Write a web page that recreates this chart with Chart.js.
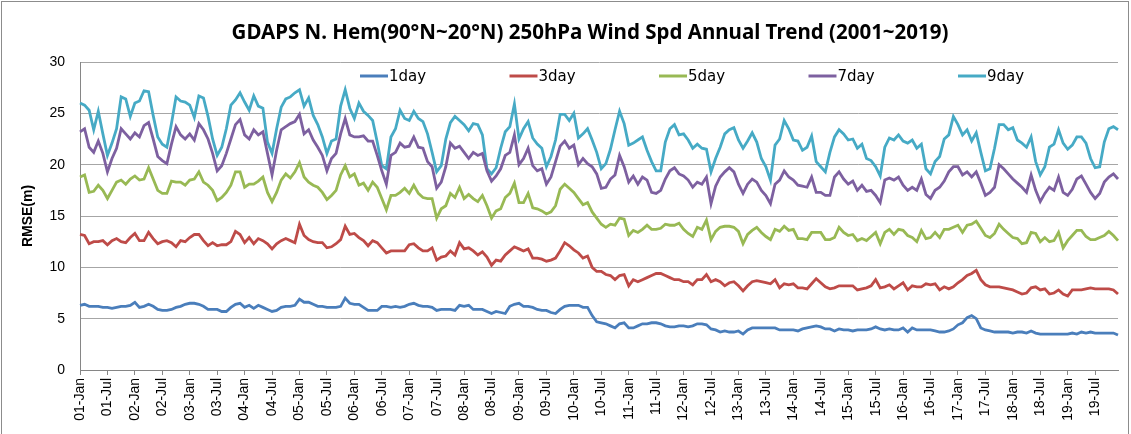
<!DOCTYPE html>
<html>
<head>
<meta charset="utf-8">
<script src="https://cdn.jsdelivr.net/npm/chart.js@4.4.1/dist/chart.umd.min.js"></script>
<style>
  html, body { margin: 0; padding: 0; background: #fff; }
  #wrap { position: relative; width: 1131px; height: 434px; }
  #frame { position: absolute; left: 1px; top: 1px; width: 1126px; height: 440px; border: 1px solid #8c8c8c; pointer-events: none; }
</style>
</head>
<body>
<div id="wrap">
  <canvas id="chart"></canvas>
  <div id="frame"></div>
</div>
<script>
// 2001~2019, monthly
const years = ["01","02","03","04","05","06","07","08","09","10","11","12","13","14","15","16","17","18","19"];
const months = ["Jan","Feb","Mar","Apr","May","Jun","Jul","Aug","Sep","Oct","Nov","Dec"];
const seriesNames = ["1day", "3day", "5day", "7day", "9day"];
const chartTitle = 'GDAPS N. Hem(90°N~20°N) 250hPa Wind Spd Annual Trend (2001~2019)';

const day1 = [
  6.3,6.4,6.2,6.2,6.2,6.1,6.1,6.0,6.1,6.2,6.2,6.3,
  6.6,6.1,6.2,6.4,6.2,5.9,5.8,5.8,5.9,6.1,6.2,6.4,
  6.5,6.5,6.4,6.2,5.9,5.9,5.9,5.7,5.7,6.1,6.4,6.5,
  6.1,6.3,6.0,6.3,6.1,5.9,5.7,5.8,6.1,6.2,6.2,6.3,
  6.9,6.6,6.6,6.4,6.2,6.2,6.1,6.1,6.1,6.2,7.0,6.5,
  6.4,6.4,6.1,5.8,5.8,5.8,6.2,6.2,6.1,6.2,6.1,6.2,
  6.4,6.5,6.3,6.2,6.2,6.1,5.8,5.9,5.9,5.9,5.8,6.3,
  6.2,6.3,5.9,5.9,5.9,5.7,5.5,5.7,5.6,5.5,6.2,6.4,
  6.5,6.2,6.2,6.1,5.9,5.8,5.8,5.6,5.5,5.9,6.2,6.3,
  6.3,6.3,6.1,6.1,5.3,4.7,4.6,4.5,4.3,4.1,4.5,4.6,
  4.1,4.1,4.3,4.5,4.5,4.6,4.6,4.5,4.3,4.2,4.2,4.3,
  4.3,4.2,4.3,4.5,4.5,4.4,4.0,3.9,3.7,3.8,3.7,3.7,
  3.8,3.5,3.9,4.1,4.1,4.1,4.1,4.1,4.1,3.9,3.9,3.9,
  3.9,3.8,4.0,4.1,4.2,4.3,4.2,4.0,4.0,3.8,4.0,3.9,
  3.9,3.8,3.9,3.9,3.9,4.0,4.2,4.0,3.9,4.0,3.9,3.9,
  4.1,3.7,4.1,3.9,3.9,3.9,3.9,3.8,3.7,3.7,3.8,4.0,
  4.4,4.6,5.1,5.3,5.0,4.1,3.9,3.8,3.7,3.7,3.7,3.7,
  3.6,3.7,3.7,3.6,3.8,3.6,3.5,3.5,3.5,3.5,3.5,3.5,
  3.5,3.6,3.5,3.7,3.6,3.7,3.6,3.6,3.6,3.6,3.6,3.4
];
const day3 = [
  13.2,13.1,12.3,12.5,12.5,12.6,12.2,12.6,12.8,12.5,12.4,12.9,
  13.3,12.6,12.6,13.4,12.8,12.3,12.5,12.6,12.4,12.0,12.6,12.5,
  12.9,13.2,13.2,12.6,12.1,12.4,12.1,12.2,12.2,12.5,13.5,13.2,
  12.4,12.9,12.3,12.8,12.6,12.3,11.8,12.3,12.6,12.8,12.6,12.4,
  14.2,13.1,12.7,12.5,12.4,12.4,11.9,12.0,12.3,12.7,14.0,13.2,
  13.3,12.9,12.6,12.1,12.6,12.4,11.9,11.4,11.6,11.6,11.6,11.6,
  12.2,12.3,11.9,11.6,11.6,11.9,10.7,11.0,11.1,11.6,11.2,12.4,
  11.8,11.9,11.6,11.2,11.5,11.0,10.2,10.7,10.6,11.2,11.6,12.0,
  11.8,11.6,11.8,10.9,10.9,10.8,10.6,10.7,10.9,11.6,12.4,12.1,
  11.7,11.4,10.9,11.1,10.0,9.6,9.6,9.3,9.2,8.8,9.2,9.3,
  8.2,8.8,8.6,8.8,9.0,9.2,9.4,9.4,9.2,9.0,8.8,8.8,
  8.6,8.6,8.3,8.8,8.8,9.3,8.6,8.8,8.6,8.2,8.5,8.6,
  8.2,7.7,8.2,8.6,8.7,8.6,8.5,8.4,8.8,8.0,8.4,8.3,
  8.4,8.0,8.0,7.9,8.4,8.9,8.5,8.1,7.9,8.0,8.2,8.2,
  8.2,8.2,7.8,7.9,8.0,8.2,8.8,8.0,8.1,8.3,7.9,8.2,
  8.5,7.8,8.2,8.1,8.1,8.4,8.3,8.4,7.8,8.1,7.9,8.1,
  8.5,8.8,9.2,9.4,9.7,8.8,8.3,8.1,8.1,8.1,8.0,7.9,
  7.8,7.6,7.4,7.5,8.0,8.1,7.8,7.9,7.4,7.5,7.8,7.4,
  7.2,7.8,7.8,7.8,7.9,8.0,7.9,7.9,7.9,7.9,7.8,7.4
];
const day5 = [
  18.8,19.0,17.3,17.4,18.0,17.5,16.7,17.5,18.3,18.5,18.1,18.6,
  18.9,18.5,18.6,19.7,18.6,17.5,17.2,17.2,18.4,18.3,18.3,18.0,
  18.5,18.6,19.3,18.3,18.0,17.5,16.5,16.8,17.3,18.0,19.3,19.3,
  17.8,18.1,18.1,18.4,18.8,17.3,16.4,17.3,18.5,19.1,18.7,19.3,
  20.2,18.8,18.3,18.0,17.8,17.3,16.6,17.0,17.5,19.0,19.9,18.8,
  19.1,18.0,18.2,17.5,18.3,17.8,16.7,15.6,17.0,17.0,17.3,17.7,
  17.2,18.0,17.2,16.8,16.7,16.7,14.8,15.7,16.0,17.2,16.8,17.8,
  16.7,17.1,16.7,16.4,17.0,16.0,14.8,15.5,15.7,16.8,17.2,18.2,
  16.3,16.3,17.2,15.8,15.7,15.5,15.2,15.4,16.0,17.6,18.1,17.7,
  17.3,16.7,16.1,16.3,15.4,14.8,14.2,13.9,14.2,14.1,14.8,14.7,
  13.1,13.6,13.4,13.7,14.1,13.7,13.7,13.8,14.2,14.1,14.1,14.3,
  13.7,13.3,13.0,13.9,13.7,14.6,12.7,13.5,13.9,14.0,14.0,13.9,
  13.5,12.3,13.2,13.6,13.9,13.4,13.0,12.7,13.7,13.5,14.0,13.6,
  13.7,12.8,12.8,12.7,13.4,13.4,13.4,12.7,12.7,12.9,13.9,13.4,
  13.1,13.2,12.6,12.8,12.6,13.0,13.4,12.3,13.4,13.7,13.2,13.7,
  13.6,13.1,12.9,12.5,13.6,12.8,12.9,13.4,12.9,13.7,13.7,13.9,
  14.1,13.4,14.1,14.2,14.5,13.8,13.1,12.9,13.3,14.2,13.7,13.3,
  12.9,12.8,12.3,12.4,13.4,13.3,12.5,12.9,12.5,12.6,13.4,11.9,
  12.6,13.1,13.6,13.6,13.0,12.7,12.7,12.9,13.1,13.5,13.1,12.6
];
const day7 = [
  23.2,23.5,21.7,21.2,22.3,21.1,19.3,20.6,21.6,23.5,23.0,22.5,
  23.1,22.7,23.8,24.1,22.5,20.8,20.4,20.1,22.0,23.7,22.9,22.5,
  23.0,22.4,24.0,23.4,22.5,21.1,19.4,19.9,21.1,22.5,23.9,24.4,
  22.9,22.5,23.4,22.9,23.2,21.1,19.0,21.4,23.4,23.7,24.0,24.2,
  24.9,23.0,23.4,22.4,21.7,20.9,19.4,20.6,21.1,23.0,24.5,22.9,
  22.7,22.7,22.8,22.3,22.3,20.9,19.4,18.1,20.9,21.2,22.1,21.7,
  21.8,22.7,21.7,21.6,20.3,19.8,17.7,18.3,19.8,22.1,21.6,21.8,
  21.2,20.6,21.2,20.9,21.1,19.4,18.4,18.9,19.6,20.9,21.2,22.9,
  20.0,20.6,21.6,19.9,19.4,19.6,18.1,18.8,20.3,21.8,22.3,21.6,
  21.9,20.0,20.6,20.1,19.8,19.1,17.7,17.8,18.6,19.0,20.9,19.8,
  18.3,18.9,18.1,18.8,18.5,17.3,17.2,17.5,18.6,19.4,19.7,19.1,
  18.9,18.5,17.8,18.3,18.1,18.8,16.2,17.9,18.8,19.3,19.7,19.3,
  18.1,17.2,18.1,18.6,18.3,17.5,17.0,16.2,18.1,18.5,19.4,18.8,
  18.5,18.0,17.9,17.8,18.8,17.3,17.3,17.0,17.0,18.8,19.3,18.6,
  18.1,18.4,17.5,18.0,17.4,17.5,17.0,16.3,18.5,18.7,18.5,18.8,
  18.0,17.5,17.8,17.5,18.6,17.1,16.7,17.5,17.8,18.4,19.3,19.8,
  19.8,19.0,19.3,18.8,19.3,18.2,17.0,17.3,17.8,20.0,19.6,19.1,
  18.6,18.2,17.8,17.3,19.0,17.5,16.4,17.2,17.8,17.5,18.8,17.3,
  17.0,17.6,18.6,18.9,18.1,17.3,16.7,17.2,18.3,18.8,19.1,18.6
];
const day9 = [
  26.0,25.8,25.3,23.4,25.2,23.0,20.9,22.1,23.5,26.6,26.4,24.7,
  26.0,26.2,27.2,27.1,24.8,22.7,22.0,21.7,24.0,26.6,26.2,26.1,
  25.8,24.6,26.7,26.5,24.7,22.5,20.9,21.7,23.5,25.8,26.3,27.0,
  26.1,25.3,26.7,25.7,25.5,22.2,21.1,23.5,25.6,26.4,26.6,27.0,
  27.3,25.7,26.5,24.8,23.9,22.7,21.1,22.3,22.5,25.7,27.3,25.5,
  24.5,26.0,25.2,24.8,24.3,22.2,19.9,19.6,22.7,23.5,25.3,24.5,
  24.3,25.2,24.5,24.2,23.0,21.2,19.3,19.9,22.5,24.1,24.7,24.3,
  23.9,23.3,24.0,23.9,22.9,19.6,19.1,19.7,21.6,23.2,23.7,25.9,
  22.5,23.5,24.2,22.6,22.0,21.6,19.8,20.8,22.4,24.9,24.9,24.3,
  25.0,22.6,23.0,23.5,22.4,21.2,19.6,20.1,21.5,23.4,25.2,24.0,
  21.9,22.1,22.4,22.7,21.4,20.3,19.4,19.4,22.2,23.5,23.9,22.9,
  23.0,22.4,21.6,22.0,21.6,21.5,19.3,20.6,21.7,23.0,23.4,23.6,
  22.4,21.6,22.3,23.1,22.2,20.6,19.8,18.5,21.9,22.5,24.3,23.5,
  22.4,22.3,21.4,21.7,22.8,20.3,19.8,19.3,21.2,22.7,23.4,23.0,
  22.4,22.5,21.6,22.0,20.6,20.4,19.8,18.9,21.7,22.6,22.4,22.9,
  22.3,22.1,22.4,21.6,22.0,19.6,19.1,20.3,20.8,22.5,22.9,24.7,
  23.9,22.9,23.4,22.3,23.1,21.2,19.4,19.6,21.6,23.9,23.9,23.4,
  23.6,22.4,22.1,21.7,22.7,20.3,19.0,19.8,21.7,22.0,23.4,22.1,
  21.5,21.9,22.7,22.7,22.1,20.6,19.7,19.8,22.2,23.5,23.7,23.4
];

const colors = ["#4A7EBB", "#BE4B48", "#98B954", "#7D60A0", "#46AAC5"];
const labels = years.flatMap(y => months.map(m => y + "-" + m));
const values = [day1, day3, day5, day7, day9];

// title + legend drawn by hand, the Excel original puts the legend inside the plot
const excelDecor = {
  id: 'excelDecor',
  afterDraw(chart) {
    const ctx = chart.ctx;
    ctx.save();

    ctx.font = 'bold 20.5px "Noto Sans"';
    ctx.fillStyle = '#000';
    ctx.textAlign = 'center';
    ctx.textBaseline = 'middle';
    ctx.fillText(chartTitle, 590, 33);

    const y = 76;
    ctx.font = '15px "DejaVu Sans"';
    ctx.textAlign = 'left';
    chart.data.datasets.forEach((ds, i) => {
      const x = 360 + i * 149.5;
      ctx.strokeStyle = ds.borderColor;
      ctx.lineWidth = 3;
      ctx.beginPath();
      ctx.moveTo(x, y);
      ctx.lineTo(x + 28, y);
      ctx.stroke();
      ctx.fillStyle = '#000';
      ctx.fillText(ds.label, x + 29, y + 1);
    });
    ctx.restore();
  }
};

new Chart(document.getElementById('chart'), {
  type: 'line',
  data: {
    labels: labels,
    datasets: seriesNames.map((name, i) => ({
      label: name,
      data: values[i],
      borderColor: colors[i],
      backgroundColor: colors[i],
      borderWidth: 2.8,
      pointRadius: 0,
      tension: 0,
      fill: false
    }))
  },
  options: {
    responsive: true,
    maintainAspectRatio: false,
    animation: false,
    layout: { padding: { left: 0, right: 13, top: 62, bottom: 0 } },
    plugins: {
      legend: { display: false },
      tooltip: { enabled: false },
      title: { display: false }
    },
    scales: {
      x: {
        offset: false,
        grid: { drawOnChartArea: false, drawTicks: true, tickLength: 5, color: '#868686' },
        border: { color: '#868686', width: 1 },
        ticks: {
          autoSkip: false,
          minRotation: 90,
          maxRotation: 90,
          padding: 3,
          color: '#000',
          font: { family: '"Liberation Sans"', size: 14 },
          callback: function (val, idx) {
            const l = labels[idx];
            return (l.endsWith('Jan') || l.endsWith('Jul')) ? l : null;
          }
        },
        afterFit: (scale) => { scale.height = 64; }
      },
      y: {
        min: 0,
        max: 30,
        grid: { color: '#A6A6A6', drawTicks: false },
        border: { color: '#868686', width: 1 },
        ticks: {
          stepSize: 5,
          padding: 15,
          color: '#000',
          font: { family: '"Liberation Sans"', size: 14 }
        },
        title: {
          display: true,
          text: 'RMSE(m)',
          color: '#000',
          font: { family: '"Liberation Sans"', size: 14, weight: 'bold' },
          padding: { top: 20, bottom: 0 }
        },
        afterFit: (scale) => { scale.width = 80; }
      }
    }
  },
  plugins: [excelDecor]
});
</script>
</body>
</html>
